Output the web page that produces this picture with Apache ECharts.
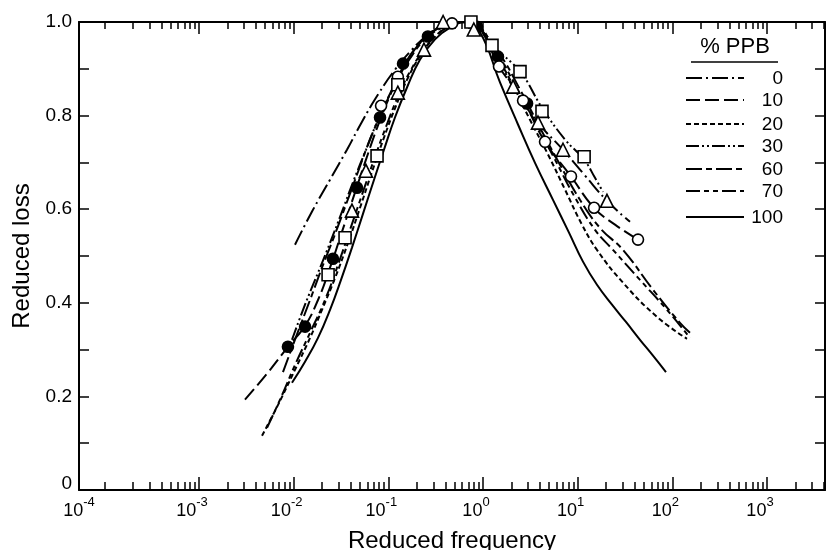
<!DOCTYPE html>
<html><head><meta charset="utf-8">
<script src="https://cdn.jsdelivr.net/npm/echarts@6/dist/echarts.min.js"></script>
<style>html,body{margin:0;padding:0;background:#fff}#c{width:828px;height:550px}</style>
</head><body><div id="c"></div>
<script>
// ---- data: [reduced frequency, reduced loss] ----
const SERIES_NAMES = ['0', '10', '20', '30', '60', '70', '100'];
const curvePPB0 = [[0.01033,0.524],[0.01563,0.595],[0.02421,0.663],[0.03656,0.727],[0.05272,0.787],[0.0778,0.845],[0.1175,0.898],[0.1778,0.941],[0.2624,0.973],[0.3972,0.995],[0.5445,1.0],[0.7295,0.997],[1.186,0.952],[2.074,0.862],[3.811,0.785],[7.0,0.727],[11.95,0.672],[20.41,0.618],[35.72,0.573]];
const curvePPB10 = [[0.00306,0.193],[0.0051,0.246],[0.00871,0.306],[0.01318,0.351],[0.01807,0.406],[0.02421,0.475],[0.03243,0.552],[0.04335,0.629],[0.05808,0.706],[0.0778,0.779],[0.1042,0.843],[0.1429,0.903],[0.2009,0.948],[0.2891,0.978],[0.4479,0.997],[0.5998,1.0],[0.8641,0.993],[1.476,0.905],[2.646,0.832],[4.518,0.744],[8.504,0.670],[14.88,0.603],[24.8,0.567],[43.39,0.535]];
const curvePPB20 = [[0.00463,0.116],[0.00684,0.182],[0.01033,0.257],[0.01489,0.325],[0.01991,0.385],[0.02735,0.453],[0.0375,0.528],[0.05023,0.603],[0.0673,0.680],[0.08995,0.753],[0.1205,0.821],[0.1614,0.881],[0.2213,0.930],[0.3192,0.971],[0.471,0.995],[0.6457,1.0],[0.8855,0.993],[1.186,0.952],[1.928,0.877],[3.137,0.791],[4.861,0.717],[7.347,0.642],[11.11,0.567],[16.0,0.513],[30.12,0.443],[68.87,0.370],[142.8,0.323]];
const curvePPB30 = [[0.0096,0.321],[0.01318,0.396],[0.01807,0.464],[0.02421,0.528],[0.03243,0.595],[0.04335,0.663],[0.05808,0.727],[0.0778,0.791],[0.1067,0.851],[0.1465,0.905],[0.2056,0.950],[0.3035,0.982],[0.5058,1.0],[0.8035,0.995],[1.245,0.950],[2.459,0.894],[4.2,0.817],[7.347,0.749],[11.67,0.706],[15.25,0.667],[18.52,0.637]];
const curvePPB60 = [[0.00771,0.252],[0.01059,0.327],[0.01489,0.406],[0.01991,0.475],[0.02668,0.541],[0.03573,0.610],[0.04786,0.680],[0.06397,0.749],[0.0879,0.813],[0.1205,0.871],[0.1694,0.922],[0.2438,0.963],[0.369,0.988],[0.5445,1.0],[0.8641,0.988],[1.44,0.937],[2.459,0.856],[4.001,0.774],[6.507,0.695],[10.58,0.620],[17.22,0.560],[30.12,0.513],[62.47,0.428],[120.5,0.357],[161.3,0.332]];
const curvePPB70 = [[0.00523,0.133],[0.00718,0.193],[0.01033,0.267],[0.01489,0.336],[0.02143,0.406],[0.02938,0.481],[0.03936,0.556],[0.05272,0.631],[0.07063,0.706],[0.09445,0.776],[0.1265,0.841],[0.1694,0.894],[0.2382,0.941],[0.3516,0.978],[0.5058,0.997],[0.5998,1.0],[0.8035,0.997],[1.339,0.941],[2.178,0.866],[3.543,0.787],[5.762,0.706],[9.373,0.625],[15.25,0.556],[23.62,0.513],[45.55,0.449],[87.8,0.385],[153.7,0.325]];
const curvePPB100 = [[0.0096,0.229],[0.01318,0.274],[0.01807,0.325],[0.02421,0.385],[0.03162,0.449],[0.0413,0.518],[0.05395,0.590],[0.07063,0.663],[0.08995,0.727],[0.1175,0.796],[0.1574,0.860],[0.2162,0.920],[0.3112,0.963],[0.4479,0.988],[0.6457,1.0],[0.9296,0.978],[1.512,0.871],[2.343,0.781],[3.543,0.699],[5.488,0.620],[8.098,0.550],[11.38,0.488],[16.0,0.4385],[23.05,0.396],[32.39,0.359],[45.55,0.321],[62.47,0.287],[85.7,0.252]];

const filledCircles = [[0.0087,0.306],[0.0132,0.349],[0.026,0.494],[0.0467,0.646],[0.0817,0.796],[0.143,0.911],[0.262,0.969],[0.865,0.99],[1.44,0.926],[2.92,0.826]];
const openCircles = [[0.0838,0.821],[0.126,0.883],[0.471,0.997],[1.476,0.905],[2.65,0.832],[4.52,0.744],[8.5,0.67],[14.9,0.603],[43.4,0.535]];
const openSquares = [[0.0231,0.46],[0.0349,0.539],[0.076,0.714],[0.126,0.866],[0.746,1.0],[1.245,0.95],[2.46,0.894],[4.2,0.809],[11.7,0.712]];
const openTriangles = [[0.0413,0.597],[0.058,0.682],[0.126,0.849],[0.238,0.941],[0.379,1.0],[0.80,0.984],[2.08,0.862],[3.81,0.785],[7.0,0.727],[20.4,0.618]];

// ---- axes ----
const X_MIN = 5.40e-5, X_MAX = 4100;
const X_MAJOR_EXP = [-3, -2, -1, 0, 1, 2, 3];
const X_LABEL_EXP = [-4, -3, -2, -1, 0, 1, 2, 3];
const X_MINOR_MULT = [2, 3, 4, 5, 6, 7, 8, 9];
const Y_TICK_LABELS = ['0', '0.2', '0.4', '0.6', '0.8', '1.0'];
const LEGEND_TITLE = '% PPB';

const FONT = '"Liberation Sans", Arial, Helvetica, sans-serif';
const LMIN = Math.log10(X_MIN), LMAX = Math.log10(X_MAX);
const minorVals = [Math.log10(1e-4)];
for (let e = -4; e <= 3; e++) X_MINOR_MULT.forEach(k => { const v = Math.log10(k) + e; if (v > LMIN && v < LMAX) minorVals.push(v); });
const labelVals = X_LABEL_EXP.map((e, i) => i === 0 ? LMIN : e);

const curves = [curvePPB0, curvePPB10, curvePPB20, curvePPB30, curvePPB60, curvePPB70, curvePPB100];
const dashes = [[16,4,2,4],[14,5],[5,3],[13,3,2,3,2,3],[16,4,6,4],[14,4,5,4,5,4],'solid'];

const black = '#000';
const decoX = (pos, ticks, len, showLine, labels) => ({
  type: 'value', position: pos, min: LMIN, max: LMAX, gridIndex: 0,
  axisLine: { show: showLine, onZero: false, lineStyle: { color: black, width: 2 } },
  axisTick: { show: true, inside: true, length: len, customValues: ticks, lineStyle: { color: black, width: 1.5 } },
  axisLabel: labels ? {
    show: true, customValues: labelVals, margin: 6, color: black,
    formatter: v => {
      const e = Math.round(v);
      return v < -4 ? '{b|10}{s|' + e + '}' : '{b|10}{s|' + e + '}{p|}';
    },
    rich: {
      b: { fontSize: 18, fontFamily: FONT, color: black, lineHeight: 24, verticalAlign: 'bottom' },
      s: { fontSize: 13, fontFamily: FONT, color: black, lineHeight: 13, verticalAlign: 'top' },
      p: { width: 14 }
    }
  } : { show: false },
  splitLine: { show: false }
});

const series = curves.map((c, i) => ({
  name: SERIES_NAMES[i], type: 'line', xAxisIndex: 0, yAxisIndex: 0,
  data: c, showSymbol: false, symbol: 'none', smooth: 0.45,
  lineStyle: { color: black, width: 2, type: dashes[i] }, z: 2
}));
const markerStyle = fill => ({ color: fill, borderColor: black, borderWidth: 1.6, opacity: 1 });
series.push(
  { type: 'scatter', data: filledCircles, symbol: 'circle', symbolSize: 11, itemStyle: markerStyle(black), clip: false, z: 5 },
  { type: 'scatter', data: openCircles, symbol: 'circle', symbolSize: 11, itemStyle: markerStyle('#fff'), clip: false, z: 5 },
  { type: 'scatter', data: openSquares, symbol: 'rect', symbolSize: 12, itemStyle: markerStyle('#fff'), clip: false, z: 5 },
  { type: 'scatter', data: openTriangles, symbol: 'triangle', symbolSize: 13, itemStyle: markerStyle('#fff'), clip: false, z: 5 }
);

// legend drawn as graphic
const legendY = [78, 100, 124, 146, 169, 191, 217];
const graphic = [
  { type: 'text', x: 735, y: 47, style: { text: LEGEND_TITLE, font: '22px ' + FONT, fill: black, textAlign: 'center', textVerticalAlign: 'middle', align: 'center', verticalAlign: 'middle' } },
  { type: 'line', shape: { x1: 691, y1: 62, x2: 778, y2: 62 }, style: { stroke: black, lineWidth: 1.5 } }
];
SERIES_NAMES.forEach((n, i) => {
  graphic.push({ type: 'line', shape: { x1: 686, y1: legendY[i], x2: 744, y2: legendY[i] },
    style: { stroke: black, lineWidth: 2, lineDash: dashes[i] === 'solid' ? null : dashes[i] } });
  graphic.push({ type: 'text', x: 783, y: legendY[i] + 1, style: { text: n, font: '19px ' + FONT, fill: black, textAlign: 'right', textVerticalAlign: 'middle', align: 'right', verticalAlign: 'middle' } });
});

const yBase = (pos, labels) => ({
  type: 'value', position: pos, min: 0, max: 1, interval: 0.1,
  axisLine: { show: true, onZero: false, lineStyle: { color: black, width: 2 } },
  axisTick: { show: true, inside: true, length: 10, lineStyle: { color: black, width: 1.5 } },
  axisLabel: labels ? {
    show: true, margin: 7, fontSize: 19, fontFamily: FONT, color: black,
    formatter: v => {
      const k = Math.round(v * 10);
      if (k % 2 !== 0) return '';
      return k === 0 ? '{z|' + Y_TICK_LABELS[0] + '}' : Y_TICK_LABELS[k / 2];
    },
    rich: { z: { fontSize: 19, fontFamily: FONT, color: black, padding: [0, 0, 12, 0] } }
  } : { show: false },
  splitLine: { show: false }
});

const option = {
  animation: false,
  backgroundColor: '#fff',
  grid: { left: 79, right: 3, top: 22, bottom: 60, containLabel: false, outerBoundsMode: 'none' },
  xAxis: [
    { type: 'log', logBase: 10, min: X_MIN, max: X_MAX, position: 'bottom',
      axisLine: { show: true, onZero: false, lineStyle: { color: black, width: 2 } },
      axisTick: { show: false }, axisLabel: { show: false }, splitLine: { show: false }, minorSplitLine: { show: false },
      name: 'Reduced frequency', nameLocation: 'middle', nameGap: 39,
      nameTextStyle: { fontSize: 24, fontFamily: FONT, color: black } },
    decoX('bottom', X_MAJOR_EXP, 13, false, true),
    decoX('bottom', minorVals, 8, false, false),
    decoX('top', X_MAJOR_EXP, 12, true, false),
    decoX('top', minorVals, 7, false, false)
  ],
  yAxis: [
    Object.assign(yBase('left', true), { name: 'Reduced loss', nameLocation: 'middle', nameGap: 40,
      nameTextStyle: { fontSize: 24, fontFamily: FONT, color: black } }),
    yBase('right', false)
  ],
  graphic: graphic,
  series: series
};
const chart = echarts.init(document.getElementById('c'), null, { renderer: 'canvas' });
chart.setOption(option);
</script></body></html>
